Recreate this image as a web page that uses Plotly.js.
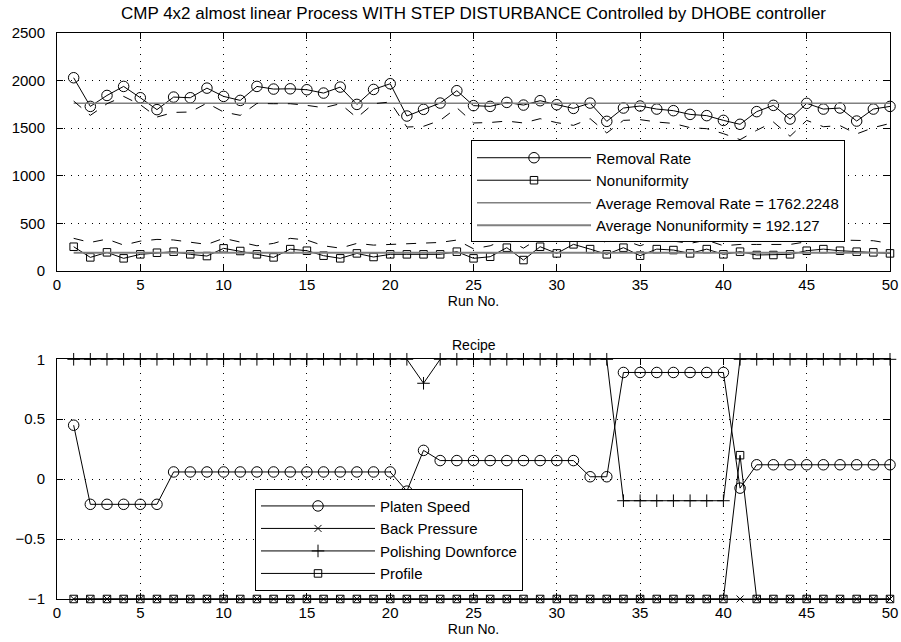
<!DOCTYPE html>
<html>
<head>
<meta charset="utf-8">
<script src="https://cdn.plot.ly/plotly-3.0.1.min.js"></script>
<style>html,body{margin:0;padding:0;background:#fff;}#chart{width:901px;height:642px;}</style>
</head>
<body>
<div id="chart"></div>
<script>
var runs = [1,2,3,4,5,6,7,8,9,10,11,12,13,14,15,16,17,18,19,20,21,22,23,24,25,26,27,28,29,30,31,32,33,34,35,36,37,38,39,40,41,42,43,44,45,46,47,48,49,50];

var removalRate = [2030,1729,1844,1939,1820,1695,1827,1820,1921,1834,1792,1939,1911,1914,1904,1869,1932,1750,1907,1967,1628,1698,1764,1894,1737,1729,1771,1743,1789,1747,1708,1764,1572,1712,1733,1701,1684,1645,1632,1582,1541,1674,1740,1596,1761,1701,1712,1575,1701,1729];
var removalDashed = [1785,1635,1757,1834,1747,1617,1666,1670,1764,1670,1635,1760,1757,1757,1740,1715,1757,1610,1757,1775,1512,1520,1582,1715,1555,1560,1575,1555,1600,1558,1530,1600,1450,1582,1590,1565,1550,1506,1495,1443,1380,1478,1565,1415,1582,1516,1527,1440,1506,1550];
var nonuniformity = [255,143,196,133,175,192,203,175,157,238,210,175,143,230,213,161,133,185,147,175,175,175,175,203,133,150,245,115,255,185,280,230,175,245,161,230,220,185,230,175,203,168,168,175,213,230,213,203,196,185];
var nonuniformityDashed = [343,300,335,272,314,332,326,300,279,343,307,265,290,343,325,265,240,290,272,279,290,290,300,325,233,265,335,240,350,307,360,350,300,325,265,325,314,290,325,265,279,279,279,279,307,343,325,318,318,290];
var avgRemovalRate = 1762.2248;
var avgNonuniformity = 192.127;

var platenSpeed = [0.45,-0.21,-0.21,-0.21,-0.21,-0.21,0.06,0.06,0.06,0.06,0.06,0.06,0.06,0.06,0.06,0.06,0.06,0.06,0.06,0.06,-0.1,0.24,0.155,0.155,0.155,0.155,0.155,0.155,0.155,0.155,0.155,0.02,0.02,0.89,0.89,0.89,0.89,0.89,0.89,0.89,-0.075,0.12,0.12,0.12,0.12,0.12,0.12,0.12,0.12,0.12];
var backPressure = [-1,-1,-1,-1,-1,-1,-1,-1,-1,-1,-1,-1,-1,-1,-1,-1,-1,-1,-1,-1,-1,-1,-1,-1,-1,-1,-1,-1,-1,-1,-1,-1,-1,-1,-1,-1,-1,-1,-1,-1,-1,-1,-1,-1,-1,-1,-1,-1,-1,-1];
var polishingDownforce = [1,1,1,1,1,1,1,1,1,1,1,1,1,1,1,1,1,1,1,1,1,0.8,1,1,1,1,1,1,1,1,1,1,1,-0.18,-0.18,-0.18,-0.18,-0.18,-0.18,-0.18,1,1,1,1,1,1,1,1,1,1];
var profile = [-1,-1,-1,-1,-1,-1,-1,-1,-1,-1,-1,-1,-1,-1,-1,-1,-1,-1,-1,-1,-1,-1,-1,-1,-1,-1,-1,-1,-1,-1,-1,-1,-1,-1,-1,-1,-1,-1,-1,-1,0.2,-1,-1,-1,-1,-1,-1,-1,-1,-1];

var topTitle = 'CMP 4x2 almost linear Process WITH STEP DISTURBANCE Controlled by DHOBE controller';
var bottomTitle = 'Recipe';
var xLabel = 'Run No.';

var FONT = 'Liberation Sans, Arial, Helvetica, sans-serif';

function constLine(v) { return runs.map(function () { return v; }); }

var traces = [
  {x: runs, y: removalRate, name: 'Removal Rate', xaxis: 'x', yaxis: 'y', mode: 'lines+markers',
   line: {color: '#000', width: 1}, marker: {symbol: 'circle-open', size: 10.5, color: '#000', line: {width: 1, color: '#000'}}, cliponaxis: false},
  {x: runs, y: nonuniformity, name: 'Nonuniformity', xaxis: 'x', yaxis: 'y', mode: 'lines+markers',
   line: {color: '#000', width: 1}, marker: {symbol: 'square-open', size: 7.5, color: '#000', line: {width: 1, color: '#000'}}, cliponaxis: false},
  {x: runs, y: constLine(avgRemovalRate), name: 'Average Removal Rate = ' + avgRemovalRate, xaxis: 'x', yaxis: 'y', mode: 'lines',
   line: {color: '#808080', width: 1.5}},
  {x: runs, y: constLine(avgNonuniformity), name: 'Average Nonuniformity = ' + avgNonuniformity, xaxis: 'x', yaxis: 'y', mode: 'lines',
   line: {color: '#808080', width: 2}},
  {x: runs, y: removalDashed, showlegend: false, xaxis: 'x', yaxis: 'y', mode: 'lines',
   line: {color: '#000', width: 1, dash: '10px,10px'}},
  {x: runs, y: nonuniformityDashed, showlegend: false, xaxis: 'x', yaxis: 'y', mode: 'lines',
   line: {color: '#000', width: 1, dash: '10px,10px'}},

  {x: runs, y: platenSpeed, name: 'Platen Speed', xaxis: 'x2', yaxis: 'y2', legend: 'legend2', mode: 'lines+markers',
   line: {color: '#000', width: 1}, marker: {symbol: 'circle-open', size: 10.5, color: '#000', line: {width: 1, color: '#000'}}, cliponaxis: false},
  {x: runs, y: backPressure, name: 'Back Pressure', xaxis: 'x2', yaxis: 'y2', legend: 'legend2', mode: 'lines+markers',
   line: {color: '#000', width: 1}, marker: {symbol: 'x-thin-open', size: 7, color: '#000', line: {width: 1, color: '#000'}}, cliponaxis: false},
  {x: runs, y: polishingDownforce, name: 'Polishing Downforce', xaxis: 'x2', yaxis: 'y2', legend: 'legend2', mode: 'lines+markers',
   line: {color: '#000', width: 1}, marker: {symbol: 'cross-thin-open', size: 9, color: '#000', line: {width: 1, color: '#000'}}, cliponaxis: false},
  {x: runs, y: profile, name: 'Profile', xaxis: 'x2', yaxis: 'y2', legend: 'legend2', mode: 'lines+markers',
   line: {color: '#000', width: 1}, marker: {symbol: 'square-open', size: 7.5, color: '#000', line: {width: 1, color: '#000'}}, cliponaxis: false}
];

function xax(anchor) {
  return {
    anchor: anchor, domain: [0, 1], range: [0, 50], dtick: 5, tick0: 0,
    showline: true, linecolor: '#000', linewidth: 1, mirror: 'ticks',
    ticks: 'inside', ticklen: 6, tickcolor: '#000',
    showgrid: true, gridcolor: '#000', gridwidth: 1, griddash: '1px,6px',
    zeroline: false, tickfont: {family: FONT, size: 15, color: '#000'},
    title: {text: xLabel, font: {family: FONT, size: 14, color: '#000'}, standoff: 0}
  };
}
function yax(anchor, domain, range, dtick) {
  return {
    anchor: anchor, domain: domain, range: range, dtick: dtick,
    showline: true, linecolor: '#000', linewidth: 1, mirror: 'ticks',
    ticks: 'inside', ticklen: 6, tickcolor: '#000',
    showgrid: true, gridcolor: '#000', gridwidth: 1, griddash: '1px,6px',
    zeroline: false, tickfont: {family: FONT, size: 15, color: '#000'}, ticklabelstandoff: 8
  };
}

var layout = {
  width: 901, height: 642,
  margin: {l: 57, r: 11, t: 33, b: 43},
  paper_bgcolor: '#fff', plot_bgcolor: '#fff',
  font: {family: FONT, size: 14, color: '#000'},
  title: {text: topTitle, font: {family: FONT, size: 17, color: '#000'}, x: 0.5, xref: 'paper', y: 1 - 13 / 642, yref: 'container', yanchor: 'middle'},
  xaxis: xax('y'),
  yaxis: yax('x', [0.5795, 1], [0, 2500], 500),
  xaxis2: xax('y2'),
  yaxis2: yax('x2', [0, 0.4235], [-1, 1], 0.5),
  legend: {x: 0.497, xanchor: 'left', y: 0.72, yanchor: 'middle', bgcolor: '#fff', bordercolor: '#000', borderwidth: 1,
           font: {family: FONT, size: 15, color: '#000'}, itemwidth: 114, tracegroupgap: 0},
  legend2: {x: 0.2377, xanchor: 'left', y: 0.1048, yanchor: 'middle', bgcolor: '#fff', bordercolor: '#000', borderwidth: 1,
            font: {family: FONT, size: 15, color: '#000'}, itemwidth: 114, tracegroupgap: 0},
  annotations: [
    {text: bottomTitle, xref: 'paper', yref: 'paper', x: 0.5, y: (599 - 345) / 566, xanchor: 'center', yanchor: 'middle',
     showarrow: false, font: {family: FONT, size: 14, color: '#000'}}
  ],
  showlegend: true
};

Plotly.newPlot('chart', traces, layout, {staticPlot: true, displayModeBar: false});
</script>
</body>
</html>
